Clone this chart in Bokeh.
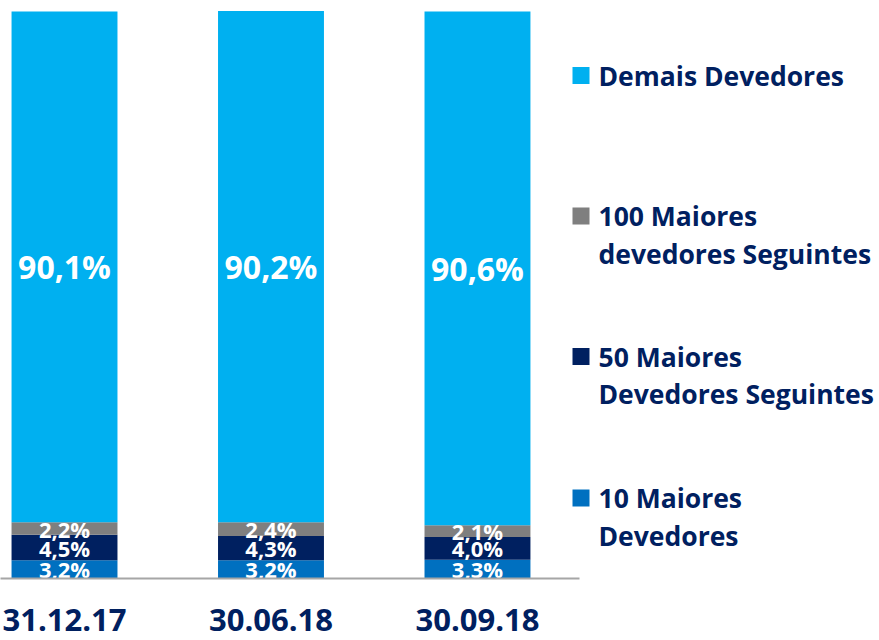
from bokeh.plotting import figure
from bokeh.models import ColumnDataSource, Range1d, FixedTicker
from bokeh.core.properties import value
from bokeh.embed import file_html
from bokeh.resources import INLINE

categories = ["31.12.17", "30.06.18", "30.09.18"]
top10 = [3.2, 3.2, 3.3]
next50 = [4.5, 4.3, 4.0]
next100 = [2.2, 2.4, 2.1]
others = [90.1, 90.2, 90.6]
series_keys = ["top10", "next50", "next100", "others"]
series_names = ["10 Maiores\nDevedores", "50 Maiores\nDevedores Seguintes",
                "100 Maiores\ndevedores Seguintes", "Demais Devedores"]
colors = ["#0070C0", "#002060", "#7F7F7F", "#00B0F0"]

FONT = "Open Sans"
NAVY = "#002060"

x = list(range(len(categories)))
data = dict(x=x, top10=top10, next50=next50, next100=next100, others=others)
source = ColumnDataSource(data)

p = figure(width=879, height=640, output_backend="svg", toolbar_location=None,
           x_range=Range1d(-0.31, 3.947), y_range=Range1d(0, 101.94),
           y_axis_location=None, min_border_left=0, min_border_right=0,
           min_border_top=0, min_border_bottom=62)
p.outline_line_color = None
p.xgrid.visible = False
p.ygrid.visible = False

renderers = p.vbar_stack(series_keys, x="x", width=0.513, color=colors,
                         line_color=None, source=source)

# value labels inside the stacked segments
lx, ly, lt, ls = [], [], [], []
for i in x:
    base = 0.0
    for key in series_keys:
        v = data[key][i]
        lx.append(i)
        ly.append(base + v / 2)
        lt.append(f"{v:.1f}".replace(".", ",") + "%")
        ls.append("32px" if key == "others" else "22px")
        base += v
lab = ColumnDataSource(dict(x=lx, y=ly, t=lt, s=ls))
p.text(x="x", y="y", text="t", source=lab, text_align="center", text_baseline="middle",
       text_color="white", text_font=value(FONT), text_font_style="bold",
       text_font_size="s")

ax = p.xaxis[0]
ax.ticker = FixedTicker(ticks=x)
ax.major_label_overrides = {i: c for i, c in zip(x, categories)}
ax.bounds = (-0.31, 2.494)
ax.axis_line_color = "#A6A6A6"
ax.axis_line_width = 2
ax.major_tick_line_color = None
ax.minor_tick_line_color = None
ax.major_tick_out = 0
ax.major_tick_in = 0
ax.major_label_standoff = 30
ax.major_label_text_font = FONT
ax.major_label_text_font_style = "bold"
ax.major_label_text_font_size = "31px"
ax.major_label_text_color = NAVY

# legend drawn in a pixel-like coordinate system (top-down)
p.extra_x_ranges["lg"] = Range1d(0, 879)
p.extra_y_ranges["lg"] = Range1d(578, 0)
order = [3, 2, 1, 0]
first_centers = [75, 215.5, 356, 497.5]
line_step = 37.8
sq_l, sq_r, sq_t, sq_b, sq_c = [], [], [], [], []
tx, ty, tt = [], [], []
for k, c in zip(order, first_centers):
    sq_l.append(572); sq_r.append(589)
    sq_t.append(c - 8.5); sq_b.append(c + 8.5)
    sq_c.append(colors[k])
    for j, line in enumerate(series_names[k].split("\n")):
        tx.append(598); ty.append(c + j * line_step); tt.append(line)
p.quad(left=sq_l, right=sq_r, top=sq_t, bottom=sq_b, fill_color=sq_c, line_color=None,
       x_range_name="lg", y_range_name="lg")
p.text(x=tx, y=ty, text=tt, text_align="left", text_baseline="middle",
       text_color=NAVY, text_font=value(FONT), text_font_style="bold",
       text_font_size="26.5px", x_range_name="lg", y_range_name="lg")

open("out.html", "w").write(file_html(p, INLINE))
